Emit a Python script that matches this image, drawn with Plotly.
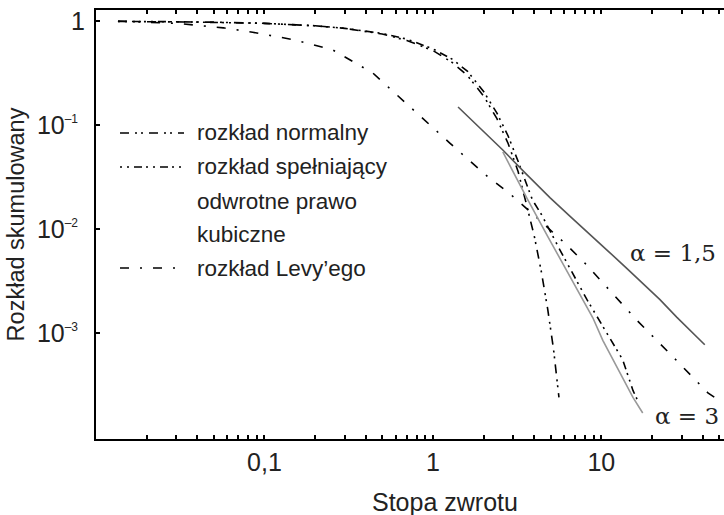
import plotly.graph_objects as go

# ---------------- data ----------------
normal_x = [0.0135, 0.02, 0.03, 0.05, 0.1, 0.2, 0.3, 0.5, 0.7, 1.0, 1.3, 1.6, 2.0, 2.4, 2.8, 3.2, 3.6, 4.0, 4.4, 4.8, 5.2, 5.6]
normal_y = [0.99, 0.99, 0.985, 0.975, 0.95, 0.9, 0.85, 0.75, 0.65, 0.52, 0.40, 0.30, 0.19, 0.115, 0.066, 0.036, 0.017, 0.0085, 0.0039, 0.0017, 0.0007, 0.00024]

cubic_x = [0.0135, 0.03, 0.1, 0.2, 0.3, 0.5, 0.7, 1.0, 1.3, 1.6, 2.0, 2.4, 2.8, 3.2, 3.9, 4.43, 5.67, 8.2, 10.5, 13.4, 15.4, 16.5]
cubic_y = [0.99, 0.985, 0.95, 0.9, 0.85, 0.76, 0.67, 0.54, 0.43, 0.33, 0.21, 0.13, 0.078, 0.045, 0.019, 0.0136, 0.0063, 0.0021, 0.00107, 0.00055, 0.00028, 0.00022]

levy_x = [0.0135, 0.03, 0.057, 0.085, 0.15, 0.255, 0.44, 0.75, 1.26, 2.12, 2.83, 4.0, 6.24, 7.98, 16.2, 26.6, 42.9, 49.0]
levy_y = [1.0, 0.95, 0.86, 0.78, 0.66, 0.526, 0.316, 0.143, 0.067, 0.0317, 0.0222, 0.0135, 0.0070, 0.0047, 0.00133, 0.00059, 0.000265, 0.00023]

a15_x = [1.41, 2.0, 2.6, 3.5, 4.95, 6.5, 8.5, 11.0, 14.1, 18.0, 22.2, 28.0, 34.9, 39.0, 41.1]
a15_y = [0.149, 0.087, 0.0575, 0.035, 0.0200, 0.0133, 0.0090, 0.0061, 0.0042, 0.0029, 0.0021, 0.00142, 0.0010, 0.00083, 0.00077]

a3_x = [2.6, 3.0, 3.66, 4.8, 6.24, 7.45, 8.9, 10.2, 11.7, 13.5, 15.4, 16.5, 17.6]
a3_y = [0.055, 0.035, 0.019, 0.0085, 0.0040, 0.0024, 0.0014, 0.00085, 0.00055, 0.00036, 0.00024, 0.0002, 0.00017]

x_tickvals = [0.1, 1, 10]
x_ticktext = ["0,1", "1", "10"]
y_tickvals = [1, 0.1, 0.01, 0.001]
y_ticktext = ["1",
              "10<sup><span style='font-size:12px'>–1</span></sup>\u00a0",
              "10<sup><span style='font-size:12px'>–2</span></sup>\u00a0",
              "10<sup><span style='font-size:12px'>–3</span></sup>\u00a0"]

x_title = "Stopa zwrotu"
y_title = "Rozkład skumulowany"
legend_labels = ["rozkład normalny", "rozkład spełniający", "odwrotne prawo", "kubiczne", "rozkład Levy’ego"]

# ---------------- styles ----------------
DASH_NORMAL = "9px,6px,2px,4px,2px,6px"
DASH_CUBIC = "2px,5px,2px,5px,8px,4px"
DASH_LEVY = "9px,11px,2px,11px"
FONT = "Liberation Sans, Arial, sans-serif"

fig = go.Figure()
fig.add_trace(go.Scatter(x=normal_x, y=normal_y, mode="lines",
                         line=dict(color="black", width=1.6, dash=DASH_NORMAL)))
fig.add_trace(go.Scatter(x=cubic_x, y=cubic_y, mode="lines",
                         line=dict(color="black", width=1.6, dash=DASH_CUBIC)))
fig.add_trace(go.Scatter(x=levy_x, y=levy_y, mode="lines",
                         line=dict(color="black", width=1.6, dash=DASH_LEVY)))
fig.add_trace(go.Scatter(x=a15_x, y=a15_y, mode="lines",
                         line=dict(color="#555555", width=1.6)))
fig.add_trace(go.Scatter(x=a3_x, y=a3_y, mode="lines",
                         line=dict(color="#999999", width=1.6)))

minor_x = [m * 10.0 ** k for k in range(-2, 2) for m in range(2, 10)]

fig.update_xaxes(type="log", range=[-2.0, 1.728],
                 tickmode="array", tickvals=x_tickvals, ticktext=x_ticktext,
                 ticks="inside", ticklen=4, tickwidth=1.5, tickcolor="black",
                 showline=True, linecolor="black", linewidth=2, mirror="allticks",
                 showgrid=False, zeroline=False,
                 minor=dict(tickmode="array", tickvals=minor_x, ticks="inside", ticklen=4,
                            tickwidth=1.5, tickcolor="black", showgrid=False),
                 tickfont=dict(family=FONT, size=25, color="#222"))
fig.update_yaxes(type="log", range=[-4.02, 0.106],
                 tickmode="array", tickvals=y_tickvals, ticktext=y_ticktext,
                 ticks="inside", ticklen=4, tickwidth=1.5, tickcolor="black",
                 showline=True, linecolor="black", linewidth=2, mirror=False,
                 showgrid=False, zeroline=False, ticklabelstandoff=4,
                 tickfont=dict(family=FONT, size=25, color="#222"),
                 title=dict(text=y_title, font=dict(family=FONT, size=23.5, color="#222"), standoff=6))

# ---------------- legend drawn by hand ----------------
W, H, L, T = 628.0, 429.0, 96.0, 10.0
def px(xp):
    return (xp - L) / W
def py(yp):
    return 1 - (yp - T) / H

legend_rows = [(133, DASH_NORMAL), (167, DASH_CUBIC), (268, DASH_LEVY)]
for yp, dash in legend_rows:
    fig.add_shape(type="line", xref="paper", yref="paper",
                  x0=px(120), x1=px(184), y0=py(yp), y1=py(yp),
                  line=dict(color="black", width=1.6, dash=dash))
for label, yp in zip(legend_labels, [133, 167, 201, 234, 268]):
    fig.add_annotation(text=label, xref="paper", yref="paper", x=px(195), y=py(yp),
                       xanchor="left", yanchor="middle", showarrow=False,
                       font=dict(family=FONT, size=22.5, color="#222"))

# x-axis title (centred as in the original, whose frame extends past the crop)
fig.add_annotation(text=x_title, xref="paper", yref="paper", x=px(445), y=py(502),
                   xanchor="center", yanchor="middle", showarrow=False,
                   font=dict(family=FONT, size=25, color="#222"))

fig.add_annotation(text="α = 1,5", x=1.424, y=-2.23, xref="x", yref="y",
                   xanchor="center", yanchor="middle", showarrow=False,
                   font=dict(family="DejaVu Serif, serif", size=23, color="#222"))
fig.add_annotation(text="α = 3", x=1.507, y=-3.8, xref="x", yref="y",
                   xanchor="center", yanchor="middle", showarrow=False,
                   font=dict(family="DejaVu Serif, serif", size=23, color="#222"))

fig.update_layout(width=724, height=515, showlegend=False,
                  margin=dict(l=96, r=0, t=10, b=76),
                  plot_bgcolor="white", paper_bgcolor="white")

fig.write_html("out.html")
